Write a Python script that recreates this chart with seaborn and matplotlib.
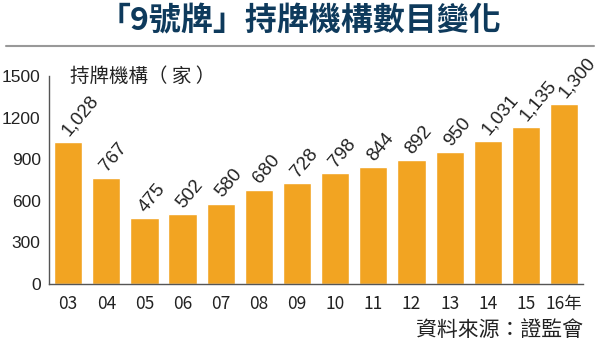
import matplotlib
matplotlib.use("Agg")
import matplotlib.pyplot as plt
from matplotlib.lines import Line2D
import seaborn as sns
import pandas as pd
import numpy as np

years = ["03", "04", "05", "06", "07", "08", "09", "10", "11", "12", "13", "14", "15", "16年"]
counts = [1028, 767, 475, 502, 580, 680, 728, 798, 844, 892, 950, 1031, 1135, 1300]
yticks = [0, 300, 600, 900, 1200, 1500]

sns.set_style("white")
cjk = ["Noto Sans CJK TC", "DejaVu Sans"]
num_font = ["Liberation Sans Narrow", "Liberation Sans", "Noto Sans CJK TC"]
plt.rcParams["font.family"] = cjk

fig = plt.figure(figsize=(6, 3.46), dpi=100)
ax = fig.add_axes([0.0817, 0.179, 0.972 - 0.0817, 0.78 - 0.179])

df = pd.DataFrame({"year": years, "count": counts})
sns.barplot(data=df, x="year", y="count", color="#F2A422", saturation=1, width=0.74, ax=ax)

ax.set_xlim(-0.5, len(years) - 0.5)
ax.set_ylim(0, 1500)
ax.set_yticks(yticks)
ax.set_yticklabels([str(v) for v in yticks], fontfamily=num_font, fontsize=12.5, color="#222222")
ax.set_xticks(range(len(years)))
ax.set_xticklabels(years, fontfamily=["Liberation Sans Narrow", "Noto Sans CJK TC"], fontsize=12.5, color="#222222")
ax.set_xlabel("")
ax.set_ylabel("")

for s in ["top", "right"]:
    ax.spines[s].set_visible(False)
for s in ["left", "bottom"]:
    ax.spines[s].set_color("#555555")
    ax.spines[s].set_linewidth(1.0)

ax.tick_params(axis="y", direction="in", length=10, width=1, color="#555555", pad=6)
ax.tick_params(axis="x", which="major", length=0, pad=8)
ax.set_xticks(np.arange(0.5, len(years), 1.0), minor=True)
ax.tick_params(axis="x", which="minor", direction="in", length=4, width=1, color="#555555")

for i, v in enumerate(counts):
    ax.annotate(f"{v:,}", xy=(i, v), xytext=(3, 2), textcoords="offset points",
                ha="left", va="bottom", rotation=50, rotation_mode="anchor",
                fontfamily=num_font, fontsize=13.5, color="#222222")

ax.text(0.04, 1.0, "持牌機構（ 家 ）", transform=ax.transAxes, ha="left", va="center",
        fontsize=14, color="#222222", fontfamily=cjk)

fig.text(0.5, 0.94, "「9號牌」持牌機構數目變化", ha="center", va="center",
         fontsize=23, fontweight="bold", color="#0E3A5C", fontfamily=cjk)
fig.add_artist(Line2D([0.01, 0.99], [0.867, 0.867], color="#999999", lw=1.5, transform=fig.transFigure))

fig.text(0.972, 0.045, "資料來源：證監會", ha="right", va="center", fontsize=15,
         color="#222222", fontfamily=cjk)

fig.savefig("out.png", dpi=100)
